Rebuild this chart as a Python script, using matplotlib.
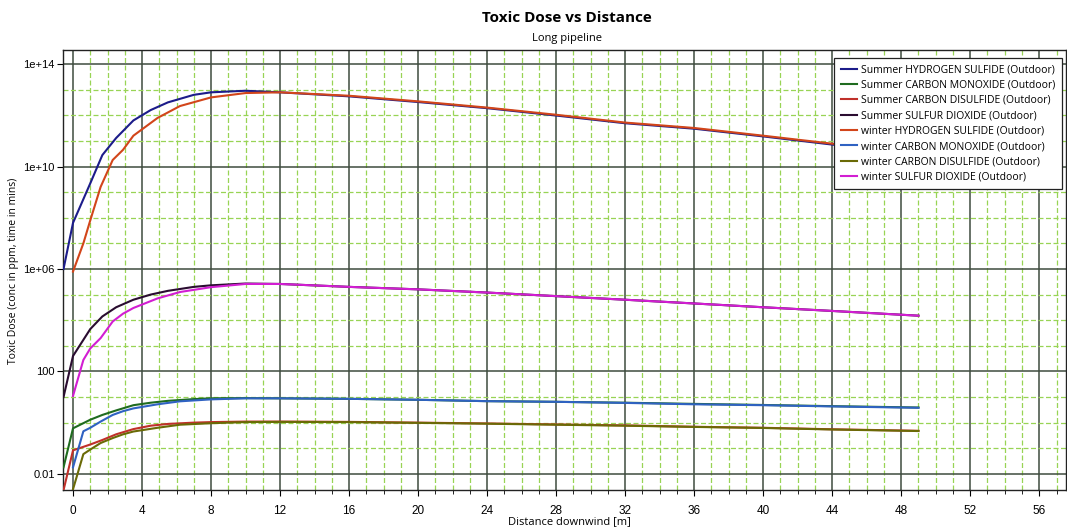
import matplotlib
import matplotlib.pyplot as plt
from matplotlib.ticker import FixedLocator, MultipleLocator, LogLocator, NullFormatter

matplotlib.use('Agg')

# distance downwind [m]
summer_dist = [-0.55, 0, 1, 1.7, 2.5, 3.5, 4.5, 5.5, 7, 8, 10, 12, 16, 20, 24, 28, 32, 36, 40, 44, 49]
winter_dist = [0, 0.6, 1, 1.6, 2.3, 2.9, 3.5, 4.9, 6.2, 8, 10, 12, 16, 20, 24, 28, 32, 36, 40, 44, 49]

# toxic dose (conc in ppm, time in mins)
summer_h2s = [1.0e6, 6.3e7, 2.2e9, 2.8e10, 1.3e11, 6.3e11, 1.6e12, 3.2e12, 6.3e12, 7.9e12, 9.1e12,
              7.9e12, 5.5e12, 3.3e12, 1.9e12, 9.8e11, 4.9e11, 3.0e11, 1.5e11, 7.2e10, 3.2e10]
summer_co = [0.018, 0.60, 1.3, 2.0, 3.0, 4.8, 6.0, 7.1, 8.3, 8.9, 9.1,
             8.9, 8.5, 7.8, 6.9, 6.5, 6.0, 5.4, 4.9, 4.4, 3.9]
summer_cs2 = [0.0023, 0.083, 0.14, 0.21, 0.35, 0.56, 0.76, 0.89, 1.0, 1.05, 1.1,
              1.1, 1.07, 1.0, 0.93, 0.85, 0.78, 0.69, 0.63, 0.55, 0.48]
summer_so2 = [10, 400, 4.5e3, 1.4e4, 3.2e4, 6.3e4, 1.0e5, 1.4e5, 2.0e5, 2.3e5, 2.7e5,
              2.6e5, 2.0e5, 1.6e5, 1.2e5, 8.7e4, 6.3e4, 4.5e4, 3.2e4, 2.3e4, 1.5e4]

winter_h2s = [7.9e5, 1.0e7, 7.9e7, 1.6e9, 1.8e10, 4.5e10, 1.6e11, 7.9e11, 2.3e12, 5.0e12, 7.4e12,
              7.9e12, 5.8e12, 3.5e12, 2.0e12, 1.05e12, 5.2e11, 3.2e11, 1.6e11, 7.8e10, 3.4e10]
winter_co = [0.018, 0.46, 0.63, 1.1, 2.0, 2.8, 3.6, 5.2, 6.8, 8.1, 8.9,
             8.9, 8.5, 7.8, 6.9, 6.5, 5.9, 5.2, 4.8, 4.3, 3.8]
winter_cs2 = [0.0025, 0.059, 0.089, 0.16, 0.25, 0.35, 0.45, 0.63, 0.83, 0.95, 1.05,
              1.07, 1.05, 0.98, 0.91, 0.83, 0.76, 0.68, 0.62, 0.54, 0.47]
winter_so2 = [11, 280, 790, 2.0e3, 8.9e3, 1.8e4, 3.0e4, 7.1e4, 1.26e5, 1.95e5, 2.6e5,
              2.6e5, 2.0e5, 1.6e5, 1.2e5, 8.7e4, 6.3e4, 4.5e4, 3.2e4, 2.3e4, 1.5e4]

y_ticks = [1e-2, 1e2, 1e6, 1e10, 1e14]
y_tick_labels = ["0.01", "100", "1e+06", "1e+10", "1e+14"]

series = [
    (summer_dist, summer_h2s, "Summer HYDROGEN SULFIDE (Outdoor)", "#1c1c8a"),
    (summer_dist, summer_co, "Summer CARBON MONOXIDE (Outdoor)", "#1f6b1f"),
    (summer_dist, summer_cs2, "Summer CARBON DISULFIDE (Outdoor)", "#c0302a"),
    (summer_dist, summer_so2, "Summer SULFUR DIOXIDE (Outdoor)", "#2a0c30"),
    (winter_dist, winter_h2s, "winter HYDROGEN SULFIDE (Outdoor)", "#d2451a"),
    (winter_dist, winter_co, "winter CARBON MONOXIDE (Outdoor)", "#2f62c2"),
    (winter_dist, winter_cs2, "winter CARBON DISULFIDE (Outdoor)", "#6a6a06"),
    (winter_dist, winter_so2, "winter SULFUR DIOXIDE (Outdoor)", "#d21ed2"),
]

fig = plt.figure(figsize=(10.67, 5.31), dpi=100)
ax = fig.add_axes([63 / 1067, 1 - 490 / 531, 1003 / 1067, 440 / 531])

for x, y, label, color in series:
    ax.plot(x, y, color=color, linewidth=1.5, label=label, zorder=3)

ax.set_yscale('log')
ax.set_xlim(-0.58, 57.55)
ax.set_ylim(10 ** -2.63, 10 ** 14.55)

# grid: dark every 4 m / 4 decades, green dashed in between
ax.xaxis.set_major_locator(MultipleLocator(4))
ax.xaxis.set_minor_locator(MultipleLocator(1))
ax.yaxis.set_major_locator(FixedLocator(y_ticks))
ax.set_yticklabels(y_tick_labels)
ax.yaxis.set_minor_locator(LogLocator(base=10, subs=[1.0], numticks=40))
ax.yaxis.set_minor_formatter(NullFormatter())

ax.grid(which='major', color='#3e4c3e', linewidth=1.1, zorder=1)
ax.grid(which='minor', color='#98d455', linewidth=0.9, linestyle=(0, (4, 2)), zorder=0)
ax.set_axisbelow(True)

ax.tick_params(axis='x', which='major', length=4, width=0.8, pad=7, labelsize=8.5)
ax.tick_params(axis='x', which='minor', length=3, width=0.6)
ax.tick_params(axis='y', which='major', length=4, width=0.8, pad=2, labelsize=8)
ax.tick_params(axis='y', which='minor', length=0)
for lbl in ax.get_xticklabels() + ax.get_yticklabels():
    lbl.set_family('Liberation Sans')

for s in ax.spines.values():
    s.set_color('#222222')
    s.set_linewidth(1.0)

leg = ax.legend(loc='upper right', bbox_to_anchor=(0.996, 0.982),
                prop={'family': 'Open Sans', 'size': 7.5}, frameon=True, fancybox=False,
                framealpha=1.0, edgecolor='#222222', handlelength=1.6, handletextpad=0.4,
                labelspacing=0.42, borderpad=0.6, borderaxespad=0)
leg.get_frame().set_linewidth(0.9)
leg.set_zorder(5)

fig.text(0.531, 0.966, "Toxic Dose vs Distance", ha='center', va='center',
         fontsize=11, fontweight='bold', family='Open Sans')
fig.text(0.531, 0.928, "Long pipeline", ha='center', va='center', fontsize=8, family='Open Sans')
fig.text(0.013, 0.49, "Toxic Dose (conc in ppm, time in mins)", rotation=90,
         ha='center', va='center', fontsize=7.5, family='Open Sans')
fig.text(0.534, 0.017, "Distance downwind [m]", ha='center', va='center',
         fontsize=8, family='Open Sans')

plt.savefig('out.png', dpi=100)
